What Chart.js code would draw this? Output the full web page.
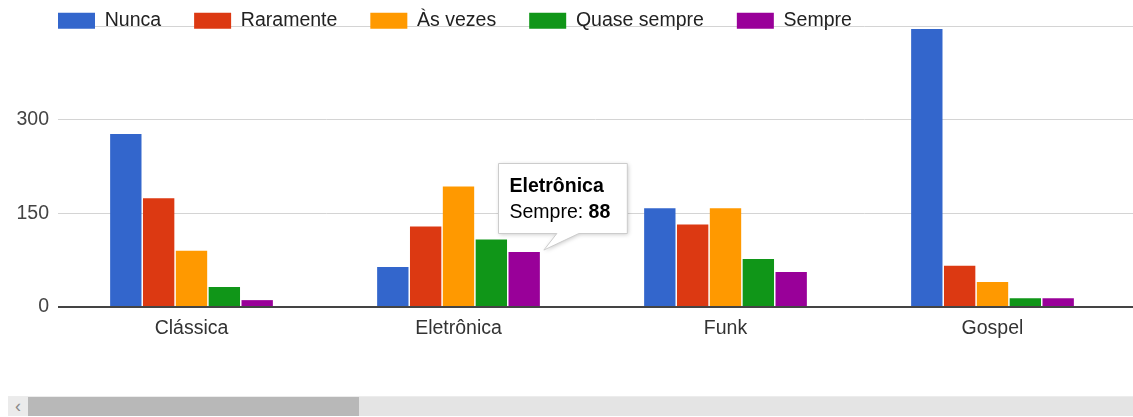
<!DOCTYPE html>
<html lang="pt-BR">
<head>
<meta charset="utf-8">
<title>Gêneros musicais</title>
<script src="https://cdn.jsdelivr.net/npm/chart.js@4/dist/chart.umd.min.js"></script>
<style>
    body { margin: 0; background: #fff; }
    .painel { position: relative; width: 1133px; height: 417px; overflow: hidden; }
    #grafico { position: absolute; left: 0; top: 0; }
    .rolagem { position: absolute; left: 8px; top: 396px; width: 1125px; height: 20px; background: #e4e4e4; border-top: 1px solid #ececec; box-sizing: border-box; }
    .rolagem .seta { position: absolute; left: 0; top: 0; width: 20px; height: 19px; background: #ebebeb; color: #8a8a8a; font: 18px "Liberation Sans", Arial, sans-serif; line-height: 18px; text-align: center; }
    .rolagem .cursor { position: absolute; left: 20px; top: 0; width: 331px; height: 19px; background: #b8b8b8; }
</style>
</head>
<body>
<div class="painel">
    <canvas id="grafico" width="1133" height="360"></canvas>
    <div class="rolagem"><div class="seta">‹</div><div class="cursor"></div></div>
</div>
<script>
/*///////////////////////////////////////////////////////////
dados
///////////////////////////////////////////////////////////*/
var categorias = ['Clássica', 'Eletrônica', 'Funk', 'Gospel'];
var series = ['Nunca', 'Raramente', 'Às vezes', 'Quase sempre', 'Sempre'];
var nunca = [277, 64, 158, 445];
var raramente = [174, 129, 132, 66];
var asVezes = [90, 193, 158, 40];
var quaseSempre = [32, 108, 77, 14];
var sempre = [11, 88, 56, 14];
var rotulosY = [0, 150, 300];
var cores = ['#3366cc', '#dc3912', '#ff9900', '#109618', '#990099'];

// barra com o balão aberto
var destaque = { serie: 4, categoria: 1 };

var fonte = '"Liberation Sans", Arial, sans-serif';
var tamanho = 19.5;
Chart.defaults.font.family = fonte;
Chart.defaults.font.size = tamanho;

/*///////////////////////////////////////////////////////////
ajustes de layout: legenda sobre a linha do topo e
última categoria sem encostar na borda
///////////////////////////////////////////////////////////*/
var ajusteLayout = {
    id: 'ajusteLayout',
    afterLayout: function (chart) {
        var x = chart.scales.x;
        x.right -= 7;
        x.width -= 7;
        x.configure();

        // a legenda só ocupa 26px no layout, mas desenha numa faixa maior
        var lg = chart.legend;
        var pad = lg.options.labels.padding;
        lg.left = chart.chartArea.left - pad;
        lg.top = 11 - pad;
        lg.bottom = chart.chartArea.top + 12;
        lg.height = lg.bottom - lg.top;
    }
};

/*///////////////////////////////////////////////////////////
balão de informação
///////////////////////////////////////////////////////////*/
var balao = {
    id: 'balao',
    afterDraw: function (chart) {
        var barra = chart.getDatasetMeta(destaque.serie).data[destaque.categoria];
        var ds = chart.data.datasets[destaque.serie];
        var titulo = chart.data.labels[destaque.categoria];
        var nome = ds.label + ': ';
        var valor = String(ds.data[destaque.categoria]);
        var ctx = chart.ctx;
        var negrito = 'bold ' + tamanho + 'px ' + fonte;
        var normal = tamanho + 'px ' + fonte;

        ctx.save();
        ctx.font = negrito;
        var wTitulo = ctx.measureText(titulo).width;
        var wValor = ctx.measureText(valor).width;
        ctx.font = normal;
        var wNome = ctx.measureText(nome).width;

        var largura = Math.max(wTitulo, wNome + wValor) + 28;
        var altura = 70;
        var pontaX = barra.x + barra.width / 2 + 4;
        var pontaY = barra.y - 2;
        var esq = Math.round(pontaX - 46) + 0.5;
        var base = Math.round(pontaY - 17.5) + 0.5;
        var topo = base - altura;

        ctx.beginPath();
        ctx.moveTo(esq, topo);
        ctx.lineTo(esq + largura, topo);
        ctx.lineTo(esq + largura, base);
        ctx.lineTo(pontaX + 35, base);
        ctx.lineTo(pontaX, pontaY);
        ctx.lineTo(pontaX + 13, base);
        ctx.lineTo(esq, base);
        ctx.closePath();
        ctx.shadowColor = 'rgba(0, 0, 0, 0.22)';
        ctx.shadowBlur = 4;
        ctx.shadowOffsetX = 1;
        ctx.shadowOffsetY = 1;
        ctx.fillStyle = '#fff';
        ctx.fill();
        ctx.shadowColor = 'transparent';
        ctx.strokeStyle = '#cccccc';
        ctx.lineWidth = 1;
        ctx.stroke();

        ctx.fillStyle = '#000';
        ctx.textBaseline = 'alphabetic';
        ctx.font = negrito;
        ctx.fillText(titulo, esq + 11, topo + 28);
        ctx.font = normal;
        ctx.fillText(nome, esq + 11, topo + 54);
        ctx.font = negrito;
        ctx.fillText(valor, esq + 11 + wNome, topo + 54);
        ctx.restore();
    }
};

/*///////////////////////////////////////////////////////////
gráfico de barras
///////////////////////////////////////////////////////////*/
var valores = [nunca, raramente, asVezes, quaseSempre, sempre];
var datasets = series.map(function (nome, i) {
    return {
        label: nome,
        data: valores[i],
        backgroundColor: cores[i],
        borderWidth: 0,
        categoryPercentage: 0.615,
        barPercentage: 0.955
    };
});

new Chart(document.getElementById('grafico'), {
    type: 'bar',
    data: { labels: categorias, datasets: datasets },
    options: {
        responsive: false,
        animation: false,
        events: [],
        layout: { padding: 0 },
        scales: {
            x: {
                grid: { display: false, drawTicks: false },
                border: { display: false },
                ticks: { color: '#333', padding: 10 },
                afterFit: function (scale) { scale.height = 53; }
            },
            y: {
                min: 0,
                max: 450,
                border: { display: false },
                grid: {
                    drawTicks: false,
                    color: function (c) { return c.tick.value === 0 ? '#444' : '#d4d4d4'; },
                    lineWidth: function (c) { return c.tick.value === 0 ? 2 : 1; }
                },
                ticks: {
                    stepSize: 150,
                    padding: 9,
                    color: '#444',
                    callback: function (v) { return rotulosY.indexOf(v) >= 0 ? v : ''; }
                },
                afterFit: function (scale) { scale.width = 58; }
            }
        },
        plugins: {
            legend: {
                position: 'top',
                align: 'start',
                maxHeight: 26,
                labels: {
                    boxWidth: 37,
                    boxHeight: 16,
                    padding: 33,
                    color: '#222'
                }
            },
            tooltip: { enabled: false }
        }
    },
    plugins: [ajusteLayout, balao]
});
</script>
</body>
</html>
